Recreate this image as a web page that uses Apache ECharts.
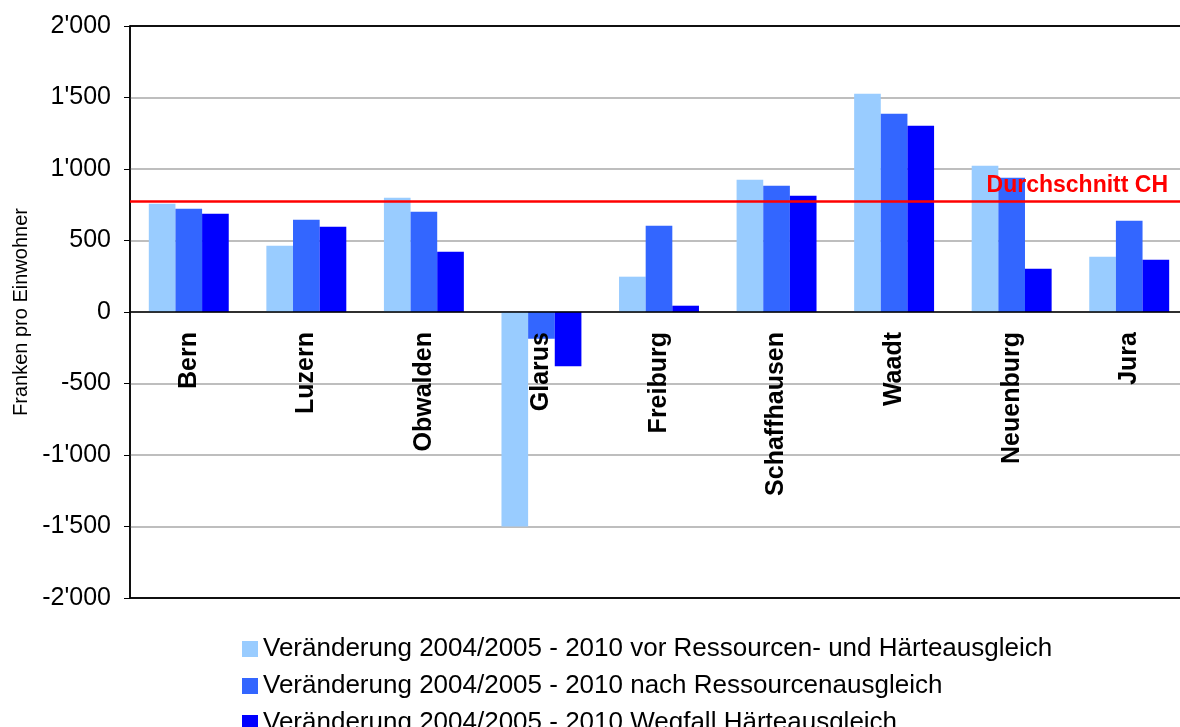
<!DOCTYPE html>
<html>
<head>
<meta charset="utf-8">
<script src="https://cdn.jsdelivr.net/npm/echarts@6/dist/echarts.min.js"></script>
<style>
  html, body { margin: 0; padding: 0; background: #fff; }
  #chart { width: 1180px; height: 727px; }
</style>
</head>
<body>
<div id="chart"></div>
<script>
// Kantone
const cantons = ['Bern', 'Luzern', 'Obwalden', 'Glarus', 'Freiburg', 'Schaffhausen', 'Waadt', 'Neuenburg', 'Jura']

// Franken pro Einwohner
const vorAusgleich = [757, 464, 799, -1500, 247, 925, 1527, 1023, 387]
const nachRessourcen = [722, 645, 701, -187, 603, 883, 1387, 939, 638]
const wegfallHaerte = [687, 596, 422, -380, 44, 813, 1303, 303, 366]
const durchschnittCH = 773

const seriesNames = [
  'Veränderung 2004/2005 - 2010 vor Ressourcen- und Härteausgleich',
  'Veränderung 2004/2005 - 2010 nach Ressourcenausgleich',
  'Veränderung 2004/2005 - 2010 Wegfall Härteausgleich'
]
const colors = ['#99ccff', '#3366ff', '#0000ff']

const font = 'Liberation Sans, Arial, sans-serif'

// 2000 -> 2'000
const fmt = (v) => {
  const s = String(Math.abs(v)).replace(/\B(?=(\d{3})+(?!\d))/g, "'")
  return (v < 0 ? '-' : '') + s
}

const gridTop = 26
const gridHeight = 572

const chart = echarts.init(document.getElementById('chart'))
chart.setOption({
  animation: false,
  color: colors,
  textStyle: { fontFamily: font },
  grid: {
    left: 130,
    top: gridTop,
    width: 1058,
    height: gridHeight,
    outerBoundsMode: 'none',
    containLabel: false,
    show: true,
    borderColor: '#000',
    borderWidth: 1.5,
    backgroundColor: 'transparent'
  },
  legend: {
    orient: 'vertical',
    left: 237,
    top: 629,
    height: 160,
    itemWidth: 16,
    itemHeight: 16,
    itemGap: 7,
    icon: 'rect',
    textStyle: { fontSize: 26, color: '#000', fontFamily: font, lineHeight: 30 },
    data: seriesNames
  },
  xAxis: {
    type: 'category',
    data: cantons,
    z: 5,
    // axis sits on the zero line (middle of the -2000..2000 range)
    offset: -gridHeight / 2,
    axisLine: { onZero: false, lineStyle: { color: '#000', width: 1.5 } },
    axisTick: { length: 8, lineStyle: { color: '#000', width: 1.5 } },
    axisLabel: {
      rotate: 90,
      margin: 20,
      fontSize: 25,
      fontWeight: 'bold',
      color: '#000',
      fontFamily: font
    }
  },
  yAxis: {
    type: 'value',
    min: -2000,
    max: 2000,
    interval: 500,
    name: 'Franken pro Einwohner',
    nameLocation: 'middle',
    nameRotate: 90,
    nameGap: 98,
    nameTextStyle: { fontSize: 20, color: '#000', fontFamily: font },
    axisLine: { show: true, lineStyle: { color: '#000', width: 1.5 } },
    axisTick: { show: true, length: 6, lineStyle: { color: '#000' } },
    axisLabel: { fontSize: 25, color: '#000', margin: 19, formatter: fmt, fontFamily: font },
    splitLine: {
      lineStyle: {
        color: ['#000', '#a8a8a8', '#a8a8a8', '#a8a8a8', '#a8a8a8', '#a8a8a8', '#a8a8a8', '#a8a8a8', '#000'],
        width: 1.5
      }
    }
  },
  series: [
    {
      name: seriesNames[0],
      type: 'bar',
      data: vorAusgleich,
      barGap: '0%',
      barCategoryGap: '32%'
    },
    {
      name: seriesNames[1],
      type: 'bar',
      data: nachRessourcen,
      barGap: '0%',
      barCategoryGap: '32%'
    },
    {
      name: seriesNames[2],
      type: 'bar',
      data: wegfallHaerte,
      barGap: '0%',
      barCategoryGap: '32%',
      markLine: {
        silent: true,
        symbol: ['none', 'none'],
        z: 10,
        lineStyle: { color: '#ff0000', width: 2.5, type: 'solid' },
        label: {
          position: 'insideEndTop',
          formatter: 'Durchschnitt CH',
          color: '#ff0000',
          fontSize: 23,
          fontWeight: 'bold',
          fontFamily: font,
          distance: 4,
          padding: [0, 16, 0, 0]
        },
        data: [{ yAxis: durchschnittCH }]
      }
    }
  ]
})
</script>
</body>
</html>
